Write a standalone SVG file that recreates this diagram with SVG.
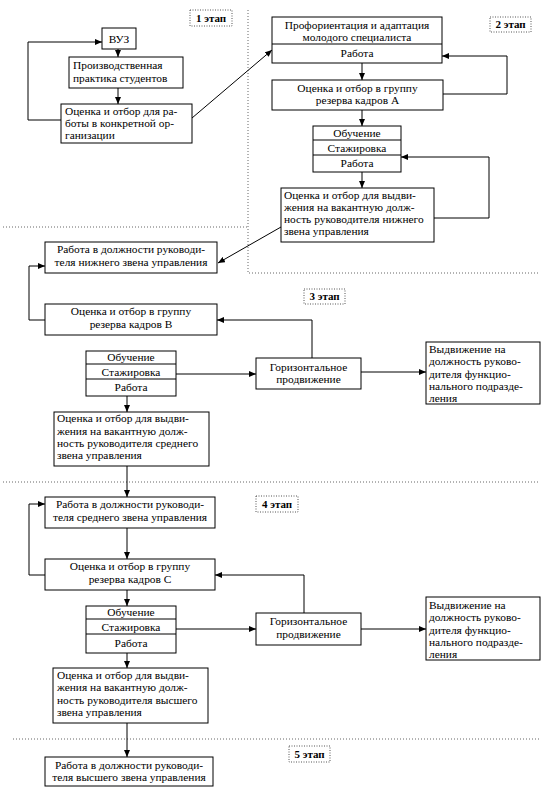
<svg xmlns="http://www.w3.org/2000/svg" width="553" height="806" viewBox="0 0 553 806">
<style>
  .box { fill: #fff; stroke: #000; stroke-width: 1; }
  .div { stroke: #000; stroke-width: 1; }
  .t { font-family: "Liberation Serif", "Times New Roman", serif; font-size: 11.4px; fill: #000; }
  .c { text-anchor: middle; }
  .stage { fill: #fff; stroke: #555; stroke-width: 1; stroke-dasharray: 1 1.5; }
  .st { font-family: "Liberation Serif", "Times New Roman", serif; font-size: 11px; font-weight: bold; fill: #000; text-anchor: middle; }
  .dot { fill: none; stroke: #666; stroke-width: 1; stroke-dasharray: 1 2; }
  .con { fill: none; stroke: #000; stroke-width: 1; marker-end: url(#ah); }
</style>
<defs>
  <marker id="ah" markerUnits="userSpaceOnUse" markerWidth="7" markerHeight="6" refX="7" refY="3" orient="auto">
    <path d="M0,0 L7,3 L0,6 z" fill="#000"/>
  </marker>
</defs>
<rect width="553" height="806" fill="#fff"/>

<g id="stage-dividers">
  <path class="dot" d="M3,227 L248,227"/>
  <path class="dot" d="M248,10 L248,273 L540,273"/>
  <path class="dot" d="M3,482 L540,482"/>
  <path class="dot" d="M13,739 L540,739"/>
</g>

<g id="stage-labels">
  <g id="stage1"><rect class="stage" x="190" y="10" width="42" height="16"/><text class="st" x="211" y="22">1 этап</text></g>
  <g id="stage2"><rect class="stage" x="490" y="17" width="41" height="15"/><text class="st" x="510.5" y="28">2 этап</text></g>
  <g id="stage3"><rect class="stage" x="304" y="289" width="41" height="15"/><text class="st" x="324.5" y="300">3 этап</text></g>
  <g id="stage4"><rect class="stage" x="256" y="496" width="42" height="16"/><text class="st" x="277" y="508">4 этап</text></g>
  <g id="stage5"><rect class="stage" x="289" y="746" width="41" height="16"/><text class="st" x="309.5" y="758">5 этап</text></g>
</g>

<g id="connectors">
  <path class="con" d="M118,49 L118,57"/>
  <path class="con" d="M118,88 L118,104"/>
  <path class="con" d="M61,120 L28,120 L28,42 L102,42"/>
  <path class="con" d="M192,118 L272,50"/>
  <path class="con" d="M362,63 L362,80"/>
  <path class="con" d="M443,94 L507,94 L507,56 L442,56"/>
  <path class="con" d="M362,110 L362,126"/>
  <path class="con" d="M362,172 L362,188"/>
  <path class="con" d="M434,218 L489,218 L489,157 L401,157"/>
  <path class="con" d="M281,227 L218,263"/>
  <path class="con" d="M45,320 L29,320 L29,266 L45,266"/>
  <path class="con" d="M312,358 L312,320 L217,320"/>
  <path class="con" d="M176,374 L256,374"/>
  <path class="con" d="M361,372 L426,372"/>
  <path class="con" d="M127,396 L127,412"/>
  <path class="con" d="M127,466 L127,497"/>
  <path class="con" d="M127,528 L127,559"/>
  <path class="con" d="M45,575 L29,575 L29,504 L45,504"/>
  <path class="con" d="M304,613 L304,575 L215,575"/>
  <path class="con" d="M127,590 L127,606"/>
  <path class="con" d="M176,629 L256,629"/>
  <path class="con" d="M361,629 L426,629"/>
  <path class="con" d="M127,653 L127,668"/>
  <path class="con" d="M127,723 L127,757"/>
</g>

<g id="vuz">
  <rect class="box" x="102" y="28" width="34" height="21"/>
  <text class="t c" x="119" y="43">ВУЗ</text>
</g>
<g id="practice">
  <rect class="box" x="69" y="57" width="114" height="31"/>
  <text class="t" x="73" y="69">Производственная</text>
  <text class="t" x="73" y="82">практика студентов</text>
</g>
<g id="select-org">
  <rect class="box" x="61" y="104" width="131" height="39"/>
  <text class="t" x="65" y="115">Оценка и отбор для ра-</text>
  <text class="t" x="65" y="127">боты в конкретной ор-</text>
  <text class="t" x="65" y="139">ганизации</text>
</g>

<g id="proforient">
  <rect class="box" x="272" y="17" width="170" height="46"/>
  <line class="div" x1="272" y1="44" x2="442" y2="44"/>
  <text class="t c" x="357" y="29">Профориентация и адаптация</text>
  <text class="t c" x="357" y="41">молодого специалиста</text>
  <text class="t c" x="357" y="57">Работа</text>
</g>
<g id="reserve-a">
  <rect class="box" x="272" y="80" width="171" height="30"/>
  <text class="t c" x="357.5" y="92">Оценка и отбор в группу</text>
  <text class="t c" x="357.5" y="104">резерва кадров А</text>
</g>
<g id="training-2">
  <rect class="box" x="313" y="126" width="88" height="46"/>
  <line class="div" x1="313" y1="140" x2="401" y2="140"/>
  <line class="div" x1="313" y1="155" x2="401" y2="155"/>
  <text class="t c" x="357" y="137">Обучение</text>
  <text class="t c" x="357" y="152">Стажировка</text>
  <text class="t c" x="357" y="167">Работа</text>
</g>
<g id="promote-low">
  <rect class="box" x="281" y="188" width="153" height="54"/>
  <text class="t" x="284" y="199">Оценка и отбор для выдви-</text>
  <text class="t" x="284" y="211">жения на вакантную долж-</text>
  <text class="t" x="284" y="223">ность руководителя нижнего</text>
  <text class="t" x="284" y="235">звена управления</text>
</g>

<g id="work-low">
  <rect class="box" x="45" y="242" width="172" height="31"/>
  <text class="t c" x="131" y="253">Работа в должности руководи-</text>
  <text class="t c" x="131" y="266">теля нижнего звена управления</text>
</g>
<g id="reserve-b">
  <rect class="box" x="45" y="304" width="172" height="31"/>
  <text class="t c" x="131" y="315">Оценка и отбор в группу</text>
  <text class="t c" x="131" y="328">резерва кадров В</text>
</g>
<g id="training-3">
  <rect class="box" x="86" y="351" width="90" height="45"/>
  <line class="div" x1="86" y1="364" x2="176" y2="364"/>
  <line class="div" x1="86" y1="379" x2="176" y2="379"/>
  <text class="t c" x="131" y="361">Обучение</text>
  <text class="t c" x="131" y="376">Стажировка</text>
  <text class="t c" x="131" y="391">Работа</text>
</g>
<g id="horizontal-3">
  <rect class="box" x="256" y="358" width="105" height="31"/>
  <text class="t c" x="308.5" y="371">Горизонтальное</text>
  <text class="t c" x="308.5" y="383">продвижение</text>
</g>
<g id="functional-3">
  <rect class="box" x="426" y="342" width="114" height="62"/>
  <text class="t" x="429" y="353">Выдвижение на</text>
  <text class="t" x="429" y="365">должность руково-</text>
  <text class="t" x="429" y="378">дителя функцио-</text>
  <text class="t" x="429" y="390">нального подразде-</text>
  <text class="t" x="429" y="402">ления</text>
</g>
<g id="promote-mid">
  <rect class="box" x="54" y="412" width="155" height="54"/>
  <text class="t" x="57" y="422">Оценка и отбор для выдви-</text>
  <text class="t" x="57" y="435">жения на вакантную долж-</text>
  <text class="t" x="57" y="447">ность руководителя среднего</text>
  <text class="t" x="57" y="459">звена управления</text>
</g>

<g id="work-mid">
  <rect class="box" x="45" y="497" width="170" height="31"/>
  <text class="t c" x="130" y="508">Работа в должности руководи-</text>
  <text class="t c" x="130" y="521">теля среднего звена управления</text>
</g>
<g id="reserve-c">
  <rect class="box" x="45" y="559" width="170" height="31"/>
  <text class="t c" x="130" y="570">Оценка и отбор в группу</text>
  <text class="t c" x="130" y="583">резерва кадров С</text>
</g>
<g id="training-4">
  <rect class="box" x="86" y="606" width="90" height="47"/>
  <line class="div" x1="86" y1="619" x2="176" y2="619"/>
  <line class="div" x1="86" y1="634" x2="176" y2="634"/>
  <text class="t c" x="131" y="616">Обучение</text>
  <text class="t c" x="131" y="631">Стажировка</text>
  <text class="t c" x="131" y="647">Работа</text>
</g>
<g id="horizontal-4">
  <rect class="box" x="256" y="613" width="105" height="32"/>
  <text class="t c" x="308.5" y="625">Горизонтальное</text>
  <text class="t c" x="308.5" y="638">продвижение</text>
</g>
<g id="functional-4">
  <rect class="box" x="426" y="597" width="114" height="63"/>
  <text class="t" x="429" y="609">Выдвижение на</text>
  <text class="t" x="429" y="621">должность руково-</text>
  <text class="t" x="429" y="634">дителя функцио-</text>
  <text class="t" x="429" y="646">нального подразде-</text>
  <text class="t" x="429" y="658">ления</text>
</g>
<g id="promote-top">
  <rect class="box" x="53" y="668" width="155" height="55"/>
  <text class="t" x="57" y="679">Оценка и отбор для выдви-</text>
  <text class="t" x="57" y="691">жения на вакантную долж-</text>
  <text class="t" x="57" y="704">ность руководителя высшего</text>
  <text class="t" x="57" y="716">звена управления</text>
</g>

<g id="work-top">
  <rect class="box" x="45" y="757" width="168" height="29"/>
  <text class="t c" x="129" y="769">Работа в должности руководи-</text>
  <text class="t c" x="129" y="781">теля высшего звена управления</text>
</g>
</svg>
